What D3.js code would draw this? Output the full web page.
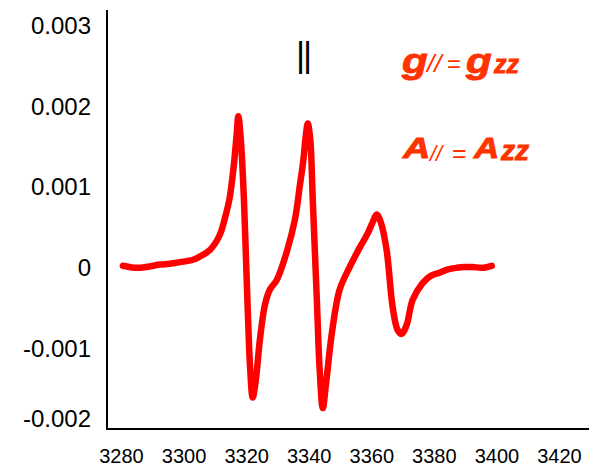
<!DOCTYPE html>
<html>
<head>
<meta charset="utf-8">
<script src="https://cdn.jsdelivr.net/npm/d3@7"></script>
<style>
  html, body { margin: 0; padding: 0; background: #fff; }
  svg { display: block; font-family: "Liberation Sans", Arial, sans-serif; }
</style>
</head>
<body>
<svg id="chart" width="589" height="466"></svg>
<script>
// EPR spectrum: magnetic field (G) vs. derivative intensity
const field = [3280.6, 3283.5, 3286.1, 3289.5, 3292.5, 3295.5, 3298.8, 3303.0, 3305.2, 3308.4,
  3311.6, 3313.5, 3314.7, 3316.0, 3317.0, 3317.5, 3318.3, 3319.3, 3320.4, 3321.3,
  3322.1, 3323.1, 3324.4, 3326.0, 3327.6, 3329.8, 3333.0, 3335.6, 3337.2, 3338.3,
  3339.1, 3339.7, 3340.5, 3341.3, 3342.6, 3343.5, 3344.5, 3345.5, 3347.4, 3349.9,
  3353.1, 3356.3, 3358.9, 3360.5, 3361.7, 3363.0, 3364.9, 3366.8, 3368.4, 3369.7,
  3371.3, 3373.2, 3376.4, 3379.0, 3381.9, 3384.5, 3387.3, 3390.0, 3392.4, 3395.5, 3398.5];
const intensity = [0.000025, 0.000005, 0.0, 0.00002, 0.00004, 0.00005, 0.00007, 0.0001, 0.00014, 0.00022,
  0.00041, 0.00066, 0.00086, 0.00125, 0.00167, 0.00188, 0.00159, 0.00084, -0.0004, -0.00126,
  -0.00161, -0.00139, -0.00089, -0.00046, -0.00027, -0.00015, 0.0002, 0.0006, 0.00103, 0.00134,
  0.00165, 0.00179, 0.00159, 0.00084, -0.0004, -0.00126, -0.00174, -0.00145, -0.00081, -0.00027,
  0.00001, 0.00025, 0.00043, 0.00057, 0.00066, 0.00057, 0.00022, -0.00048, -0.00077, -0.00082,
  -0.00071, -0.0004, -0.00019, -0.0001, -0.00006, -0.00002, 0.0, 0.00001, 0.00001, 0.0, 0.000025];

const xTicks = [3280, 3300, 3320, 3340, 3360, 3380, 3400, 3420];
const yTicks = [-0.002, -0.001, 0, 0.001, 0.002, 0.003];

const svg = d3.select("#chart");

const x = d3.scaleLinear().domain([3280, 3420]).range([121, 559]);
const y = d3.scaleLinear().domain([-0.002, 0.003]).range([429, 26]);

const axisX = 107, axisY = 429;

// Axis lines
svg.append("line")
  .attr("x1", axisX).attr("x2", axisX).attr("y1", 10).attr("y2", axisY + 1)
  .attr("stroke", "#000").attr("stroke-width", 2);
svg.append("line")
  .attr("x1", axisX - 1).attr("x2", 589).attr("y1", axisY).attr("y2", axisY)
  .attr("stroke", "#000").attr("stroke-width", 2);

// Y axis labels
const gy = svg.append("g")
  .attr("transform", `translate(${axisX},0)`)
  .call(d3.axisLeft(y).tickValues(yTicks).tickSize(0).tickPadding(16)
    .tickFormat(d => d === 0 ? "0" : d.toFixed(3)));
gy.select(".domain").remove();
gy.selectAll("text").attr("font-size", 24).attr("font-family", "Liberation Sans, Arial, sans-serif").attr("fill", "#000");
gy.selectAll(".tick").filter(d => d === -0.002).select("text").attr("dy", "-0.12em");

// X axis labels
const gx = svg.append("g")
  .attr("transform", `translate(0,${axisY})`)
  .call(d3.axisBottom(x).tickValues(xTicks).tickSize(0).tickPadding(20).tickFormat(d3.format("d")));
gx.select(".domain").remove();
gx.selectAll("text").attr("font-size", 20).attr("font-family", "Liberation Sans, Arial, sans-serif").attr("fill", "#000");

// Spectrum trace
const pts = field.map((f, i) => [f, intensity[i]]);
svg.append("path")
  .datum(pts)
  .attr("fill", "none")
  .attr("stroke", "#ff0000")
  .attr("stroke-width", 6.5)
  .attr("stroke-linejoin", "round")
  .attr("stroke-linecap", "round")
  .attr("d", d3.line().x(d => x(d[0])).y(d => y(d[1])).curve(d3.curveCatmullRom.alpha(0.5)));

// Parallel marker
svg.append("text")
  .attr("x", 303).attr("y", 67)
  .attr("text-anchor", "middle")
  .attr("font-size", 35)
  .attr("letter-spacing", "-2")
  .attr("fill", "#000")
  .text("||");

// Annotations: g// = gzz and A// = Azz
const ann = "#ff3300";
const notes = svg.append("g").attr("fill", ann)
  .style("font-family", "Liberation Sans, Arial, sans-serif");
function glyph(txt, gx0, base, size, sx, heavy) {
  const t = notes.append("text")
    .attr("transform", `translate(${gx0},${base}) scale(${sx},1)`)
    .style("font-size", size + "px")
    .style("font-style", "italic")
    .text(txt);
  if (heavy) t.style("font-weight", "bold").attr("stroke", ann).attr("stroke-width", 0.9);
  return t;
}
glyph("g", 402, 73, 35, 1.2, true);
glyph("//", 427, 72, 24, 1.1, false);
glyph("=", 447, 72, 24, 1.0, false).style("font-style", "normal");
glyph("g", 466, 73, 35, 1.2, true);
glyph("zz", 494, 73, 25, 1.0, true);

glyph("A", 403, 158, 29, 1.3, true);
glyph("//", 430, 161, 22, 1.0, false);
glyph("=", 452, 162, 25, 1.0, false).style("font-style", "normal");
glyph("A", 474, 158, 29, 1.2, true);
glyph("zz", 501, 160, 28, 1.0, true);
</script>
</body>
</html>
